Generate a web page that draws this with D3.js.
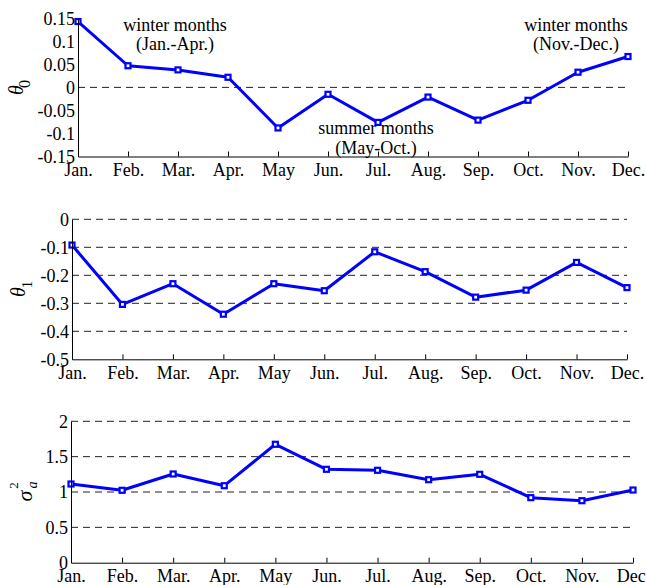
<!DOCTYPE html>
<html>
<head>
<meta charset="utf-8">
<script src="https://cdn.jsdelivr.net/npm/d3@7"></script>
<style>
  html, body { margin: 0; padding: 0; background: #fff; overflow: hidden; }
  svg { display: block; }
  text { font-family: "Liberation Serif", "Times New Roman", serif; fill: #000; }
</style>
</head>
<body>
<svg id="chart" width="646" height="585"></svg>
<script>
// Monthly parameter estimates
const months = ["Jan.", "Feb.", "Mar.", "Apr.", "May", "Jun.", "Jul.", "Aug.", "Sep.", "Oct.", "Nov.", "Dec."];

const theta0 = [0.143, 0.047, 0.038, 0.022, -0.088, -0.015, -0.076, -0.021, -0.071, -0.028, 0.033, 0.067];
const theta1 = [-0.092, -0.304, -0.230, -0.339, -0.230, -0.255, -0.116, -0.187, -0.278, -0.253, -0.154, -0.244];
const sigma2a = [1.113, 1.024, 1.255, 1.089, 1.675, 1.321, 1.307, 1.174, 1.250, 0.920, 0.877, 1.028];

const theta0Ticks = [-0.15, -0.1, -0.05, 0, 0.05, 0.1, 0.15];
const theta1Ticks = [-0.5, -0.4, -0.3, -0.2, -0.1, 0];
const sigma2aTicks = [0, 0.5, 1, 1.5, 2];

const theta0Grid = [0];
const theta1Grid = [0, -0.1, -0.2, -0.3, -0.4];
const sigma2aGrid = [0.5, 1, 1.5, 2];

const winterEarlyNote = ["winter months", "(Jan.-Apr.)"];
const summerNote = ["summer months", "(May-Oct.)"];
const winterLateNote = ["winter months", "(Nov.-Dec.)"];

const svg = d3.select("#chart");
const BLUE = "#0000ff";
const FONT = 18;

function drawPanel(cfg) {
  const x = d3.scalePoint().domain(months).range([cfg.x0, cfg.x1]);
  const y = d3.scaleLinear().domain(cfg.domain).range([cfg.yBottom, cfg.yTop]);
  const g = svg.append("g");

  // dashed reference lines
  g.append("g").selectAll("line").data(cfg.grid).join("line")
    .attr("x1", cfg.x0).attr("x2", cfg.x1)
    .attr("y1", d => y(d)).attr("y2", d => y(d))
    .attr("stroke", "#222").attr("stroke-width", 1)
    .attr("stroke-dasharray", "7,5");

  // series line
  const line = d3.line().x((d, i) => x(months[i])).y(d => y(d));
  g.append("path").datum(cfg.values)
    .attr("d", line)
    .attr("fill", "none").attr("stroke", BLUE)
    .attr("stroke-width", 3).attr("stroke-linejoin", "round");

  // square markers
  const s = 5;
  g.append("g").selectAll("rect").data(cfg.values).join("rect")
    .attr("x", (d, i) => x(months[i]) - s / 2)
    .attr("y", d => y(d) - s / 2)
    .attr("width", s).attr("height", s)
    .attr("fill", "#fff").attr("stroke", BLUE).attr("stroke-width", 2.2);

  // left axis
  const yAxis = d3.axisLeft(y).tickValues(cfg.ticks)
    .tickFormat(d => String(d)).tickSize(0).tickPadding(3);
  const ya = g.append("g").attr("transform", `translate(${cfg.x0},0)`).call(yAxis);
  ya.select(".domain").attr("stroke", "#000").attr("stroke-width", 1);
  ya.selectAll("text").style("font-size", FONT + "px")
    .style("font-family", "'Liberation Serif', 'Times New Roman', serif");

  // bottom axis, ticks pointing inward
  const xAxis = d3.axisBottom(x).tickSizeInner(-5).tickSizeOuter(0).tickPadding(7);
  const xa = g.append("g").attr("transform", `translate(0,${cfg.yBottom})`).call(xAxis);
  xa.select(".domain").attr("stroke", "#000").attr("stroke-width", 1);
  xa.selectAll(".tick line").attr("stroke", "#000");
  xa.selectAll("text").style("font-size", FONT + "px")
    .style("font-family", "'Liberation Serif', 'Times New Roman', serif");

  return { x, y, g };
}

// θ0 panel
const p0 = drawPanel({
  x0: 78, x1: 628, yTop: 18.3, yBottom: 156.5,
  domain: [-0.15, 0.15], ticks: theta0Ticks, grid: theta0Grid, values: theta0
});
// θ1 panel
drawPanel({
  x0: 72, x1: 627, yTop: 219.3, yBottom: 359.3,
  domain: [-0.5, 0], ticks: theta1Ticks, grid: theta1Grid, values: theta1
});
// σa² panel
drawPanel({
  x0: 71, x1: 633, yTop: 421.3, yBottom: 562.7,
  domain: [0, 2], ticks: sigma2aTicks, grid: sigma2aGrid, values: sigma2a
});

// season annotations on the θ0 panel
function note(lines, cx, vals) {
  lines.forEach((t, i) => {
    p0.g.append("text")
      .attr("x", cx).attr("y", p0.y(vals[i]))
      .attr("text-anchor", "middle").attr("dy", "0.33em")
      .style("font-size", FONT + "px").text(t);
  });
}
note(winterEarlyNote, p0.x("Mar.") - 3, [0.135, 0.093]);
note(summerNote, p0.x("Jul.") - 2, [-0.089, -0.132]);
note(winterLateNote, p0.x("Nov.") - 2, [0.135, 0.093]);

// rotated y-axis titles, built glyph by glyph
function glyph(txt, bx, cy, size, italic) {
  svg.append("text")
    .attr("transform", `translate(${bx},${cy}) rotate(-90)`)
    .attr("text-anchor", "middle")
    .style("font-size", size + "px")
    .style("font-style", italic ? "italic" : "normal")
    .text(txt);
}
glyph("θ", 23, 90, 20, true);
glyph("0", 30, 84, 16, false);
glyph("θ", 25, 292, 20, true);
glyph("1", 31.5, 284.5, 15, false);
glyph("σ", 32, 496, 22, true);
glyph("2", 18, 485.5, 13, false);
glyph("a", 37, 485, 14, true);
</script>
</body>
</html>
